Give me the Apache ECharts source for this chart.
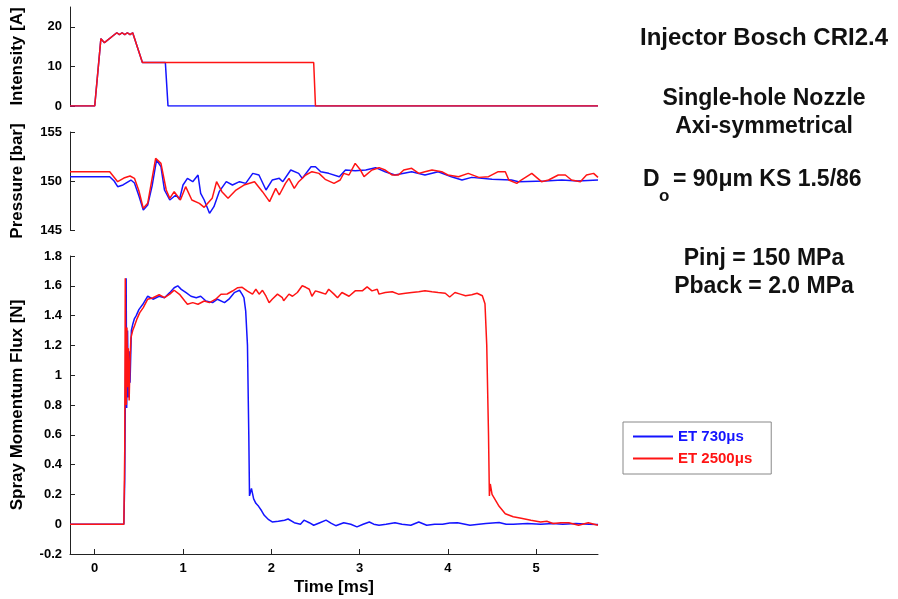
<!DOCTYPE html>
<html>
<head>
<meta charset="utf-8">
<script src="https://cdn.jsdelivr.net/npm/echarts@6/dist/echarts.min.js"></script>
<style>
html,body{margin:0;padding:0;background:#fff;}
#chart{width:898px;height:599px;}
</style>
</head>
<body>
<div id="chart"></div>
<script>
// ---------- data ----------
const seriesNames = ['ET 730\u03bcs', 'ET 2500\u03bcs'];

const X_TICKS = [0, 1, 2, 3, 4, 5];
const INTENSITY_TICKS = [0, 10, 20];
const PRESSURE_TICKS = [145, 150, 155];
const FLUX_TICKS = [-0.2, 0, 0.2, 0.4, 0.6, 0.8, 1, 1.2, 1.4, 1.6, 1.8];

// Intensity [A]
const intensityTimeBlue = [-0.28, 0.0, 0.07, 0.11, 0.25, 0.28, 0.31, 0.34, 0.37, 0.40, 0.43, 0.45, 0.54, 0.80, 0.83, 5.7];
const intensityBlue     = [0, 0, 17, 16, 18.5, 18, 18.5, 18, 18.5, 18, 18.5, 18.5, 11, 11, 0, 0];
const intensityTimeRed  = [-0.28, 0.0, 0.07, 0.11, 0.25, 0.28, 0.31, 0.34, 0.37, 0.40, 0.43, 0.45, 0.54, 2.48, 2.50, 5.7];
const intensityRed      = [0, 0, 17, 16, 18.5, 18, 18.5, 18, 18.5, 18, 18.5, 18.5, 11, 11, 0, 0];

// Pressure [bar]
const pressureTimeBlue = [-0.28, 0.17, 0.22, 0.26, 0.32, 0.41, 0.45, 0.50, 0.55, 0.60, 0.65, 0.70, 0.75, 0.79, 0.85, 0.92, 0.96, 1.00, 1.05, 1.11, 1.17, 1.20, 1.24, 1.30, 1.35, 1.41, 1.49, 1.56, 1.64, 1.71, 1.79, 1.86, 1.94, 2.01, 2.09, 2.13, 2.22, 2.31, 2.35, 2.45, 2.50, 2.56, 2.65, 2.77, 2.84, 2.95, 3.07, 3.18, 3.29, 3.40, 3.59, 3.74, 3.89, 4.04, 4.16, 4.27, 4.50, 4.72, 4.80, 5.10, 5.29, 5.47, 5.70];
const pressureBlue     = [150.44, 150.44, 150.0, 149.42, 149.6, 150.1, 149.8, 148.5, 147.04, 147.55, 149.5, 152.14, 151.46, 149.08, 148.06, 148.57, 148.13, 149.59, 150.27, 149.93, 150.61, 148.74, 148.06, 146.7, 147.38, 148.91, 149.93, 149.59, 149.93, 149.76, 150.78, 150.61, 149.08, 150.1, 150.27, 149.93, 151.12, 150.78, 150.27, 151.46, 151.46, 150.95, 150.78, 150.44, 151.12, 151.05, 151.12, 151.36, 150.95, 150.61, 150.95, 150.61, 150.95, 150.44, 150.1, 150.37, 150.17, 150.1, 149.93, 150.0, 150.1, 150.0, 150.1];
const pressureTimeRed  = [-0.28, 0.17, 0.26, 0.33, 0.40, 0.45, 0.50, 0.55, 0.60, 0.69, 0.75, 0.81, 0.85, 0.90, 0.97, 1.03, 1.10, 1.185, 1.24, 1.33, 1.38, 1.44, 1.51, 1.60, 1.69, 1.81, 1.90, 1.98, 2.05, 2.09, 2.16, 2.20, 2.26, 2.31, 2.39, 2.46, 2.54, 2.61, 2.71, 2.78, 2.82, 2.88, 2.95, 3.01, 3.05, 3.14, 3.22, 3.29, 3.37, 3.44, 3.50, 3.59, 3.67, 3.74, 3.82, 3.93, 4.00, 4.12, 4.23, 4.35, 4.46, 4.57, 4.65, 4.69, 4.78, 4.83, 4.95, 5.06, 5.14, 5.25, 5.33, 5.40, 5.50, 5.57, 5.65, 5.70];
const pressureRed      = [150.95, 150.95, 149.93, 150.3, 150.51, 150.27, 149.0, 147.21, 147.72, 152.31, 151.8, 149.08, 148.23, 148.91, 148.06, 149.42, 148.06, 147.72, 147.31, 148.23, 149.93, 148.91, 148.23, 149.08, 149.59, 149.93, 148.91, 147.89, 149.25, 148.57, 149.76, 150.27, 149.25, 149.93, 150.61, 150.95, 150.78, 150.17, 149.76, 150.1, 150.78, 150.61, 151.8, 151.12, 150.44, 151.12, 151.36, 151.12, 150.61, 150.61, 151.12, 151.29, 150.78, 150.95, 151.12, 150.95, 150.61, 150.44, 150.78, 150.37, 150.44, 150.95, 150.95, 150.1, 149.76, 150.1, 150.78, 149.93, 150.1, 150.61, 150.61, 150.1, 149.93, 150.61, 150.78, 150.37];

// Spray Momentum Flux [N]
const fluxTimeBlue = [-0.28, 0.33, 0.34, 0.35, 0.356, 0.362, 0.372, 0.38, 0.39, 0.40, 0.415, 0.43, 0.45, 0.47, 0.50, 0.545, 0.60, 0.66, 0.73, 0.79, 0.85, 0.90, 0.94, 0.98, 1.035, 1.09, 1.15, 1.20, 1.26, 1.335, 1.39, 1.47, 1.52, 1.58, 1.64, 1.67, 1.69, 1.71, 1.73, 1.745, 1.753, 1.775, 1.80, 1.825, 1.856, 1.89, 1.92, 1.97, 2.01, 2.08, 2.15, 2.19, 2.26, 2.33, 2.37, 2.43, 2.48, 2.55, 2.62, 2.68, 2.73, 2.82, 2.90, 2.97, 3.04, 3.11, 3.16, 3.22, 3.30, 3.40, 3.48, 3.58, 3.67, 3.76, 3.85, 3.94, 4.02, 4.11, 4.25, 4.35, 4.43, 4.58, 4.66, 4.74, 4.90, 5.05, 5.19, 5.30, 5.45, 5.60, 5.70];
const fluxBlue     = [0, 0, 0.3, 1.10, 1.65, 0.78, 1.30, 0.85, 1.16, 0.95, 1.30, 1.34, 1.38, 1.40, 1.44, 1.476, 1.53, 1.51, 1.53, 1.52, 1.554, 1.587, 1.60, 1.576, 1.554, 1.53, 1.52, 1.53, 1.498, 1.487, 1.51, 1.487, 1.51, 1.554, 1.57, 1.543, 1.52, 1.43, 1.2, 0.6, 0.19, 0.24, 0.17, 0.14, 0.12, 0.09, 0.06, 0.03, 0.015, 0.02, 0.027, 0.035, 0.01, 0.0, 0.027, 0.01, -0.007, 0.01, 0.027, 0.005, -0.01, 0.01, 0.0, -0.018, 0.0, 0.015, 0.0, -0.007, 0.0, 0.01, 0.0, -0.007, 0.015, -0.007, 0.0, 0.0, 0.008, 0.01, -0.007, 0.0, 0.005, 0.012, 0.0, 0.0, 0.005, 0.0, 0.005, 0.0, 0.005, 0.0, -0.002];
const fluxTimeRed  = [-0.28, 0.33, 0.34, 0.346, 0.352, 0.358, 0.365, 0.372, 0.38, 0.39, 0.40, 0.41, 0.43, 0.45, 0.48, 0.51, 0.55, 0.60, 0.66, 0.73, 0.79, 0.85, 0.90, 0.96, 1.02, 1.05, 1.11, 1.17, 1.24, 1.30, 1.37, 1.43, 1.50, 1.56, 1.62, 1.67, 1.73, 1.75, 1.787, 1.825, 1.862, 1.90, 1.94, 1.975, 2.01, 2.07, 2.125, 2.14, 2.20, 2.24, 2.295, 2.35, 2.39, 2.43, 2.46, 2.50, 2.56, 2.615, 2.65, 2.71, 2.75, 2.80, 2.88, 2.95, 3.03, 3.085, 3.14, 3.20, 3.22, 3.29, 3.37, 3.44, 3.52, 3.59, 3.67, 3.74, 3.82, 3.89, 3.97, 4.02, 4.08, 4.14, 4.20, 4.27, 4.33, 4.39, 4.42, 4.44, 4.46, 4.47, 4.48, 4.50, 4.55, 4.58, 4.65, 4.74, 4.83, 4.85, 4.94, 5.05, 5.12, 5.19, 5.28, 5.37, 5.48, 5.59, 5.70];
const fluxRed      = [0, 0, 0.5, 1.65, 1.0, 0.8, 1.32, 0.92, 1.18, 0.83, 1.10, 1.25, 1.30, 1.33, 1.38, 1.42, 1.454, 1.51, 1.52, 1.54, 1.52, 1.544, 1.57, 1.543, 1.498, 1.476, 1.487, 1.476, 1.498, 1.487, 1.51, 1.543, 1.545, 1.565, 1.587, 1.59, 1.565, 1.577, 1.544, 1.577, 1.544, 1.57, 1.53, 1.487, 1.51, 1.544, 1.52, 1.50, 1.544, 1.53, 1.555, 1.60, 1.59, 1.577, 1.53, 1.566, 1.555, 1.544, 1.577, 1.544, 1.52, 1.555, 1.53, 1.566, 1.566, 1.593, 1.566, 1.577, 1.544, 1.555, 1.56, 1.544, 1.55, 1.555, 1.56, 1.566, 1.56, 1.555, 1.55, 1.525, 1.555, 1.544, 1.533, 1.54, 1.55, 1.533, 1.48, 1.2, 0.6, 0.19, 0.27, 0.2, 0.15, 0.12, 0.07, 0.05, 0.04, 0.045, 0.027, 0.015, 0.02, 0.005, 0.01, 0.01, -0.007, 0.01, -0.007];

// ---------- chart ----------
const BLUE = 'rgb(20,20,255)';
const RED = 'rgb(255,20,20)';
const FONT = '"Liberation Sans", Arial, sans-serif';
const AXIS_COLOR = '#222';

function zip(t, v) { return t.map((x, i) => [x, v[i]]); }

const X_MIN = -0.28, X_MAX = 5.7;
const gridLeft = 70, gridRight = 300;

function yAxis(gridIndex, min, max, ticks, name) {
  return {
    type: 'value', gridIndex: gridIndex, min: min, max: max,
    axisLine: { show: true, onZero: false, lineStyle: { color: AXIS_COLOR, width: 1 } },
    axisTick: { show: true, inside: true, length: 5, customValues: ticks, lineStyle: { color: AXIS_COLOR } },
    axisLabel: { customValues: ticks, color: '#000', fontWeight: 'bold', fontSize: 13, fontFamily: FONT, margin: 8 },
    splitLine: { show: false },
    name: name, nameLocation: 'middle', nameGap: 44,
    nameTextStyle: { color: '#000', fontWeight: 'bold', fontSize: 17, fontFamily: FONT }
  };
}
function hiddenX(gridIndex) {
  return { type: 'value', gridIndex: gridIndex, min: X_MIN, max: X_MAX, show: false, splitLine: { show: false } };
}
function line(name, color, xi, data) {
  return {
    type: 'line', name: name, xAxisIndex: xi, yAxisIndex: xi, data: data,
    symbol: 'none', showSymbol: false, animation: false,
    itemStyle: { color: color }, lineStyle: { color: color, width: 1.5 }, z: 2
  };
}

const chart = echarts.init(document.getElementById('chart'), null, { renderer: 'canvas' });
const txt = (text, x, y, size, align) => ({
  type: 'text', x: x, y: y,
  style: { text: text, fill: '#111', font: 'bold ' + size + 'px ' + FONT, textAlign: align || 'center', textVerticalAlign: 'middle' }
});

chart.setOption({
  backgroundColor: '#fff',
  animation: false,
  grid: [
    { left: gridLeft, right: gridRight, top: 7, height: 99 },
    { left: gridLeft, right: gridRight, top: 132, height: 98 },
    { left: gridLeft, right: gridRight, top: 256, height: 298 }
  ],
  xAxis: [
    hiddenX(0), hiddenX(1),
    {
      type: 'value', gridIndex: 2, min: X_MIN, max: X_MAX,
      axisLine: { show: true, onZero: false, lineStyle: { color: AXIS_COLOR, width: 1 } },
      axisTick: { show: true, inside: true, length: 5, customValues: X_TICKS, lineStyle: { color: AXIS_COLOR } },
      axisLabel: { customValues: X_TICKS, color: '#000', fontWeight: 'bold', fontSize: 13, fontFamily: FONT, margin: 8 },
      splitLine: { show: false },
      name: 'Time [ms]', nameLocation: 'middle', nameGap: 25,
      nameTextStyle: { color: '#000', fontWeight: 'bold', fontSize: 17, fontFamily: FONT }
    }
  ],
  yAxis: [
    yAxis(0, 0, 25, INTENSITY_TICKS, 'Intensity [A]'),
    yAxis(1, 145, 155, PRESSURE_TICKS, 'Pressure [bar]'),
    yAxis(2, -0.2, 1.8, FLUX_TICKS, 'Spray Momentum Flux [N]')
  ],
  legend: {
    left: 623, top: 422, orient: 'vertical',
    data: [
      { name: seriesNames[0], textStyle: { color: BLUE } },
      { name: seriesNames[1], textStyle: { color: RED } }
    ],
    icon: 'rect', itemWidth: 40, itemHeight: 2, itemGap: 7,
    padding: [7, 19, 8, 10],
    borderColor: '#888', borderWidth: 1, backgroundColor: '#fff',
    textStyle: { fontWeight: 'bold', fontSize: 15, fontFamily: FONT },
    selectedMode: false
  },
  graphic: [
    txt('Injector Bosch CRI2.4', 764, 38, 24),
    txt('Single-hole Nozzle', 764, 99, 23),
    txt('Axi-symmetrical', 764, 127, 23),
    txt('D', 643, 180, 23, 'left'),
    txt('o', 659, 196, 17, 'left'),
    txt('= 90\u03bcm KS 1.5/86', 673, 180, 23, 'left'),
    txt('Pinj = 150 MPa', 764, 259, 23),
    txt('Pback = 2.0 MPa', 764, 287, 23)
  ],
  series: [
    line(seriesNames[0], BLUE, 0, zip(intensityTimeBlue, intensityBlue)),
    line(seriesNames[1], RED, 0, zip(intensityTimeRed, intensityRed)),
    line(seriesNames[0], BLUE, 1, zip(pressureTimeBlue, pressureBlue)),
    line(seriesNames[1], RED, 1, zip(pressureTimeRed, pressureRed)),
    line(seriesNames[0], BLUE, 2, zip(fluxTimeBlue, fluxBlue)),
    line(seriesNames[1], RED, 2, zip(fluxTimeRed, fluxRed))
  ]
});
</script>
</body>
</html>
